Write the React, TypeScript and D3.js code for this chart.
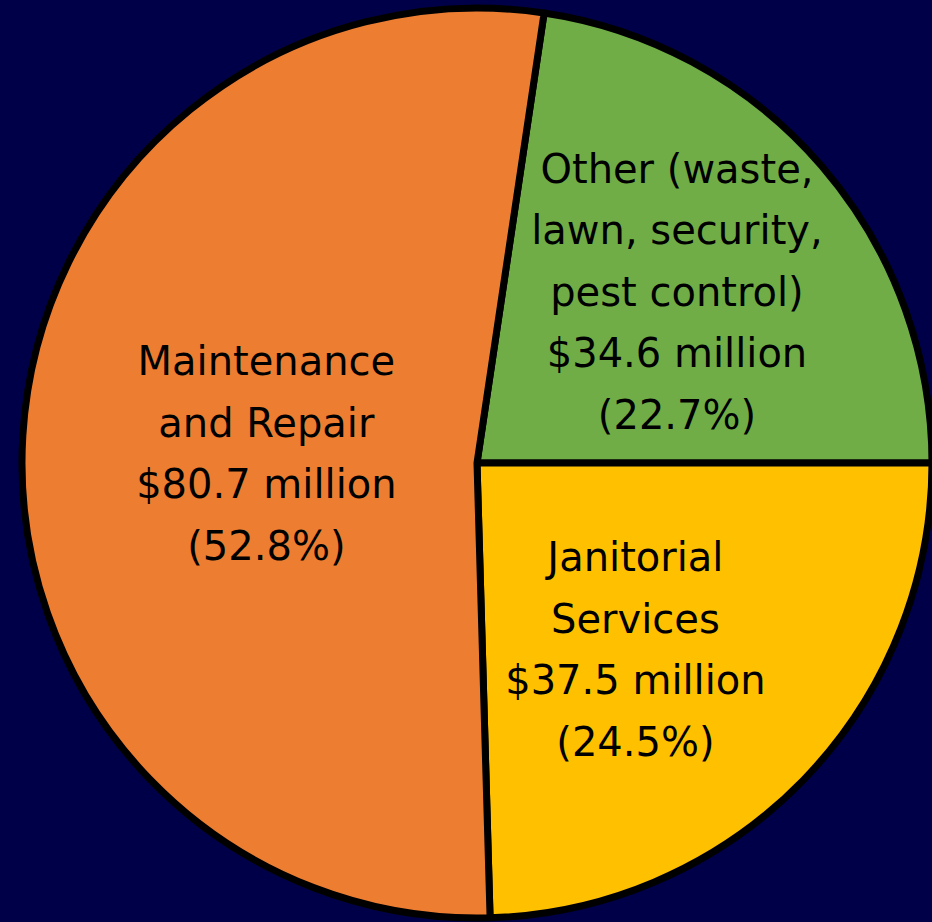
import React from "react";
import * as d3 from "d3";

const categories = ["Other", "Janitorial", "Maintenance"];
const values = [34.6, 37.5, 80.7];
const labelLines = [
  ["Other (waste,", "lawn, security,", "pest control)", "$34.6 million", "(22.7%)"],
  ["Janitorial", "Services", "$37.5 million", "(24.5%)"],
  ["Maintenance", "and Repair", "$80.7 million", "(52.8%)"],
];
const colors = ["#70AD47", "#FFC000", "#ED7D31"];

const W = 932;
const H = 922;
const cx = 477;
const cy = 463;
const R = 455;
const labelRadius = [264, 246, 211];
const labelShift = [
  [0, 1],
  [-18, 15],
  [0, 3],
];
const lineH = 61.5;
const fontSize = 40;

export default function App() {
  const total = d3.sum(values);
  const startAngle = Math.PI / 2 - (2 * Math.PI * values[0]) / total;
  const pie = d3
    .pie<number>()
    .sort(null)
    .startAngle(startAngle)
    .endAngle(startAngle + 2 * Math.PI)
    .value((d) => d);
  const arcs = pie(values);
  const arc = d3.arc<d3.PieArcDatum<number>>().innerRadius(0).outerRadius(R);

  return (
    <svg
      width={W}
      height={H}
      style={{ position: "fixed", left: 0, top: 0, display: "block" }}
    >
      <rect width={W} height={H} fill="#000048" />
      <g transform={`translate(${cx},${cy})`}>
        {arcs.map((a, i) => (
          <path
            key={categories[i]}
            d={arc(a) || ""}
            fill={colors[i]}
            stroke="#000"
            strokeWidth={7}
            strokeLinejoin="round"
          />
        ))}
        {arcs.map((a, i) => {
          const mid = (a.startAngle + a.endAngle) / 2;
          const x = Math.sin(mid) * labelRadius[i] + labelShift[i][0];
          const y = -Math.cos(mid) * labelRadius[i] + labelShift[i][1];
          const lines = labelLines[i];
          const y0 = y - ((lines.length - 1) * lineH) / 2 + fontSize * 0.35;
          return (
            <text
              key={"l" + i}
              textAnchor="middle"
              fontFamily="'DejaVu Sans', sans-serif"
              fontSize={fontSize}
              fill="#000"
            >
              {lines.map((ln, j) => (
                <tspan key={j} x={x} y={y0 + j * lineH}>
                  {ln}
                </tspan>
              ))}
            </text>
          );
        })}
      </g>
    </svg>
  );
}
